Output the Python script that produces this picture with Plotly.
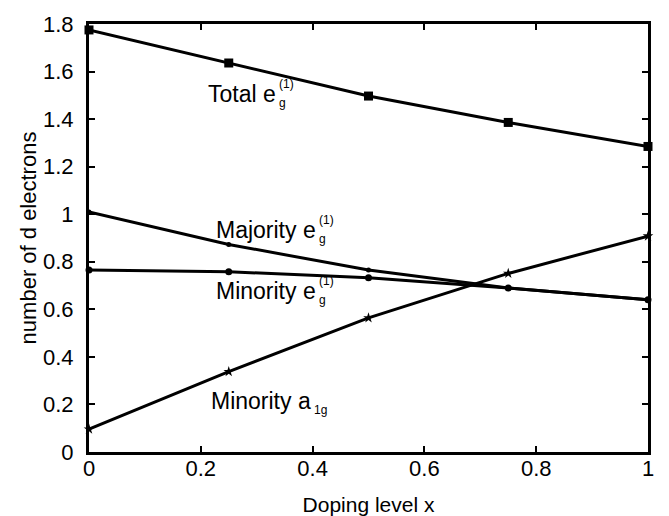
import plotly.graph_objects as go

# Doping level and d-electron occupations
doping = [0, 0.25, 0.5, 0.75, 1.0]
total_eg = [1.775, 1.636, 1.497, 1.386, 1.285]
majority_eg = [1.009, 0.873, 0.765, 0.690, 0.640]
minority_eg = [0.765, 0.758, 0.733, 0.690, 0.640]
minority_a1g = [0.096, 0.338, 0.564, 0.751, 0.908]

x_ticks = [0, 0.2, 0.4, 0.6, 0.8, 1]
y_ticks = [0, 0.2, 0.4, 0.6, 0.8, 1, 1.2, 1.4, 1.6, 1.8]

FONT = "Liberation Sans, Arial, sans-serif"
line = dict(color="black", width=3)

fig = go.Figure()
fig.add_trace(go.Scatter(x=doping, y=total_eg, mode="lines+markers", line=line,
                         marker=dict(symbol="square", size=9, color="black"),
                         cliponaxis=False, name="Total"))
fig.add_trace(go.Scatter(x=doping, y=majority_eg, mode="lines+markers", line=line,
                         marker=dict(symbol="circle", size=5, color="black"),
                         cliponaxis=False, name="Majority eg"))
fig.add_trace(go.Scatter(x=doping, y=minority_eg, mode="lines+markers", line=line,
                         marker=dict(symbol="circle", size=7, color="black"),
                         cliponaxis=False, name="Minority eg"))
fig.add_trace(go.Scatter(x=doping, y=minority_a1g, mode="lines+markers", line=line,
                         marker=dict(symbol="star", size=8, color="black"),
                         cliponaxis=False, name="Minority a1g"))


def label(main, x, y, sup=None, sub=None):
    """Curve label with a stacked subscript / superscript after the main text."""
    fig.add_annotation(x=x, y=y, text=main, showarrow=False, xanchor="right",
                       yanchor="middle", font=dict(family=FONT, size=23, color="black"))
    if sup:
        fig.add_annotation(x=x, y=y, text=sup, showarrow=False, xanchor="left",
                           yanchor="middle", yshift=10, xshift=-1,
                           font=dict(family=FONT, size=12, color="black"))
    if sub:
        fig.add_annotation(x=x, y=y, text=sub, showarrow=False, xanchor="left",
                           yanchor="middle", yshift=-9, xshift=-1,
                           font=dict(family=FONT, size=12, color="black"))


label("Total e", 0.338, 1.506, sup="(1)", sub="g")
label("Majority e", 0.41, 0.934, sup="(1)", sub="g")
label("Minority e", 0.41, 0.678, sup="(1)", sub="g")
label("Minority a", 0.40, 0.215, sub="1g")

axis_common = dict(
    showline=True, linecolor="black", linewidth=3, mirror="allticks",
    ticks="inside", ticklen=6, tickwidth=2, tickcolor="black",
    showgrid=False, zeroline=False, automargin=False,
    tickfont=dict(family=FONT, size=22, color="black"),
)

fig.update_xaxes(range=[0, 1], tickvals=x_ticks, ticktext=[f"{v:g}" for v in x_ticks],
                 ticklabelstandoff=-5,
                 title=dict(text="Doping level x", standoff=18,
                            font=dict(family=FONT, size=21, color="black")),
                 **axis_common)
fig.update_yaxes(range=[0, 1.8], tickvals=y_ticks, ticktext=[f"{v:g}" for v in y_ticks],
                 ticklabelstandoff=8,
                 title=dict(text="number of d electrons", standoff=1,
                            font=dict(family=FONT, size=22, color="black")),
                 **axis_common)

fig.update_layout(
    width=669, height=516,
    margin=dict(l=89, r=21, t=24, b=64),
    plot_bgcolor="white", paper_bgcolor="white",
    showlegend=False,
)

fig.write_html("out.html")
